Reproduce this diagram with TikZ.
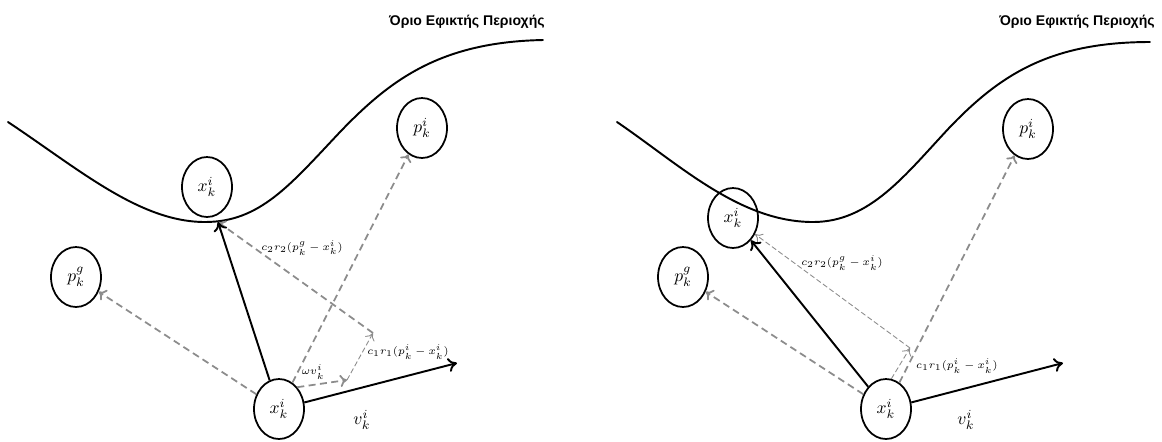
\documentclass[tikz,border=0pt]{standalone}
\usepackage{fontspec}
\setmainfont{Liberation Sans}
\usetikzlibrary{shapes.geometric,arrows.meta}
\tikzset{
  psoagent/.style={ellipse, draw=black, line width=1pt, minimum width=1cm, minimum height=1.2cm, inner sep=0pt, font=\normalsize},
  psobound/.style={line width=1.1pt, draw=black, line cap=round},
  psomove/.style={line width=1.1pt, draw=black, -{To[length=5pt,width=8pt]}},
  psopull/.style={line width=1pt, draw=black!45, dash pattern=on 4pt off 2.5pt, -{To[length=4pt,width=7pt]}},
  psopart/.style={line width=0.5pt, draw=black!45, dash pattern=on 3pt off 1.5pt, -{To[length=4pt,width=6pt]}},
  psonote/.style={font=\fontsize{6}{7}\selectfont, inner sep=1pt},
  psotitle/.style={font=\footnotesize\bfseries, anchor=east, inner sep=0pt},
}

\begin{document}
\begin{tikzpicture}[x=0.02cm, y=-0.02cm]
\useasboundingbox (0,0) rectangle (1162,441);
% left panel
\draw[psobound] (8,122) .. controls (80,170) and (140,222) .. (205,222) .. controls (260,222) and (290,185) .. (340,132) .. controls (390,80) and (440,42) .. (543,40);
\node[psotitle] (titleL) at (545,22) {Όριο Εφικτής Περιοχής};
\node[psoagent] (xuL) at (207,187) {$x_k^i$};
\node[psoagent] (piL) at (422,128) {$p_k^i$};
\node[psoagent] (pgL) at (76,277) {$p_k^g$};
\node[psoagent] (xlL) at (279,409) {$x_k^i$};
\coordinate (touchL) at (218,222);
\coordinate (vL) at (457,363);
\coordinate (wvL) at (347,380);
\coordinate (c1L) at (373,333);
\draw[psopull] (xlL) -- (pgL);
\draw[psopull] (xlL) -- (piL);
\draw[psopull] (c1L) -- (touchL);
\draw[psopull] (xlL.50) -- (wvL);
\draw[psopart] (wvL) -- (c1L);
\draw[psomove] (xlL) -- (touchL);
\draw[psomove] (xlL) -- (vL);
\node[psonote] (c2nL) at (302,248) {$c_2r_2(p_k^g-x_k^i)$};
\node[psonote] (c1nL) at (408,352) {$c_1r_1(p_k^i-x_k^i)$};
\node[psonote] (wnL) at (313,372) {$\omega v_k^i$};
\node (vnL) at (362,420) {$v_k^i$};
% right panel
\draw[psobound] (617,122) .. controls (680,165) and (740,222) .. (813,222) .. controls (870,222) and (905,175) .. (950,127) .. controls (1000,75) and (1050,42) .. (1150,42);
\node[psotitle] (titleR) at (1155,22) {Όριο Εφικτής Περιοχής};
\node[psoagent] (xuR) at (733,218) {$x_k^i$};
\node[psoagent] (piR) at (1028,129) {$p_k^i$};
\node[psoagent] (pgR) at (683,277) {$p_k^g$};
\node[psoagent] (xlR) at (886,409) {$x_k^i$};
\coordinate (vR) at (1063,363);
\coordinate (c1R) at (910,348);
\draw[psopull] (xlR) -- (pgR);
\draw[psopull] (xlR) -- (piR);
\draw[psopart] (c1R) -- (xuR);
\draw[psopart] (xlR.80) -- (c1R);
\draw[psomove] (xlR) -- (xuR);
\draw[psomove] (xlR) -- (vR);
\node[psonote] (c2nR) at (842,263) {$c_2r_2(p_k^g-x_k^i)$};
\node[psonote, anchor=west] (c1nR) at (914,366) {$c_1r_1(p_k^i-x_k^i)$};
\node (vnR) at (966,420) {$v_k^i$};
\end{tikzpicture}
\end{document}
